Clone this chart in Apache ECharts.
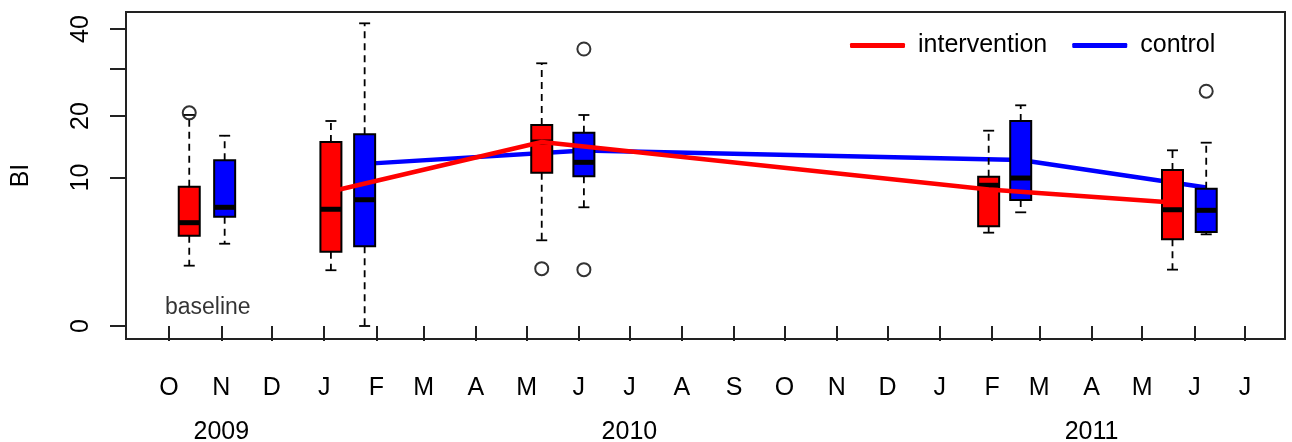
<!DOCTYPE html>
<html><head><meta charset="utf-8">
<script src="https://cdn.jsdelivr.net/npm/echarts@6.0.0/dist/echarts.min.js"></script>
<style>html,body{margin:0;padding:0;background:#fff}#c{width:1292px;height:442px}</style>
</head><body><div id="c"></div>
<script>
// ---- tick labels ----
const monthTicks = ['2009-10-01','2009-11-01','2009-12-01','2010-01-01','2010-02-01','2010-03-01','2010-04-01','2010-05-01','2010-06-01','2010-07-01','2010-08-01','2010-09-01','2010-10-01','2010-11-01','2010-12-01','2011-01-01','2011-02-01','2011-03-01','2011-04-01','2011-05-01','2011-06-01','2011-07-01'];
const monthLetters = ['J','F','M','A','M','J','J','A','S','O','N','D'];
const yearTicks = ['2009-11-01','2010-07-01','2011-04-01'];
const yearLabels = ['2009','2010','2011'];
const yTicks = [0, 10, 20, 30, 40];
const yLabels = [0, 10, 20, 40];

// ---- box plots: [lower whisker, Q1, median, Q3, upper whisker] ----
const redDates = ['2009-10-13','2010-01-05','2010-05-10','2011-01-30','2011-05-19'];
const redBoxes = [
  [1.65, 3.70, 4.84, 8.80, 20.2],
  [1.41, 2.50, 6.18, 15.35, 19.06],
  [3.33, 10.66, 15.35, 18.32, 31.3],
  [3.95, 4.51, 8.98, 10.11, 17.30],
  [1.44, 3.41, 6.13, 11.04, 14.0]
];
const blueDates = ['2009-11-03','2010-01-25','2010-06-04','2011-02-18','2011-06-08'];
const blueBoxes = [
  [3.07, 5.42, 6.39, 12.45, 16.42],
  [0, 2.88, 7.23, 16.66, 41.55],
  [6.39, 10.16, 12.15, 16.94, 20.19],
  [5.86, 7.20, 9.93, 19.06, 22.09],
  [3.81, 4.01, 6.07, 8.55, 15.24]
];
const redOutlierDates = ['2009-10-13','2010-05-10'];
const redOutlierValues = [20.6, 1.49];
const blueOutlierDates = ['2010-06-04','2010-06-04','2011-06-08'];
const blueOutlierValues = [34.8, 1.44, 25.0];

// ---- trend lines ----
const redLineDates = ['2010-01-05','2010-05-10','2011-01-30','2011-05-19'];
const redLineValues = [8.2, 15.35, 8.45, 6.92];
const blueLineDates = ['2010-01-25','2010-06-04','2011-02-18','2011-06-08'];
const blueLineValues = [11.92, 13.97, 12.50, 8.70];

const noteText = 'baseline';
const noteDate = '2009-10-24';
const noteValue = 0.15;

// ---- helpers ----
const FONT = 'Liberation Sans, Arial, sans-serif';
const t = s => Date.parse(s.length === 10 ? s + 'T00:00:00Z' : s + 'Z');
const tr = v => Math.sqrt(v);   // square-root y scale

function boxRender(color) {
  return function (params, api) {
    const x = api.value(0);
    const c = k => api.coord([x, api.value(k)]);
    const lo = c(1), q1 = c(2), md = c(3), q3 = c(4), hi = c(5);
    const cx = lo[0], hw = 10.5, cw = 5.5;
    const dash = { stroke: '#000', lineWidth: 1.8, lineDash: [7, 5], fill: null };
    const solid = { stroke: '#000', lineWidth: 1.8, fill: null };
    return { type: 'group', children: [
      { type: 'line', shape: { x1: cx, y1: q3[1], x2: cx, y2: hi[1] }, style: dash },
      { type: 'line', shape: { x1: cx, y1: q1[1], x2: cx, y2: lo[1] }, style: dash },
      { type: 'line', shape: { x1: cx - cw, y1: hi[1], x2: cx + cw, y2: hi[1] }, style: solid },
      { type: 'line', shape: { x1: cx - cw, y1: lo[1], x2: cx + cw, y2: lo[1] }, style: solid },
      { type: 'rect', shape: { x: cx - hw, y: q3[1], width: 2 * hw, height: q1[1] - q3[1] },
        style: { fill: color, stroke: '#000', lineWidth: 2 } },
      { type: 'line', shape: { x1: cx - hw, y1: md[1], x2: cx + hw, y2: md[1] },
        style: { stroke: '#000', lineWidth: 5 } }
    ]};
  };
}
const boxData = (dates, boxes) => dates.map((d, i) => [t(d)].concat(boxes[i].map(tr)));
const ptData = (dates, vals) => dates.map((d, i) => [t(d), tr(vals[i])]);

const chart = echarts.init(document.getElementById('c'), null, { renderer: 'canvas' });
const xMin = t('2009-09-05T12:00'), xMax = t('2011-07-24T17:00');

chart.setOption({
  animation: false,
  backgroundColor: '#fff',
  textStyle: { fontFamily: FONT },
  grid: { left: 126, right: 7, top: 12, bottom: 103, show: true, borderColor: '#222', borderWidth: 2,
          containLabel: false, outerBoundsMode: 'none' },
  legend: {
    left: 850, top: 33, padding: 0, itemWidth: 55, itemHeight: 5, itemGap: 25, icon: 'roundRect',
    textStyle: { fontSize: 25, color: '#000', fontFamily: FONT, padding: [0, 0, 0, 8] },
    data: ['intervention', 'control']
  },
  xAxis: [
    { type: 'value', min: xMin, max: xMax, position: 'bottom',
      splitLine: { show: false }, axisLine: { show: false },
      axisTick: { show: true, length: 15, lineStyle: { color: '#222', width: 2 }, customValues: monthTicks.map(t) },
      axisLabel: { show: true, margin: 37, fontSize: 25, color: '#000', fontFamily: FONT,
        customValues: monthTicks.map(t),
        formatter: v => monthLetters[new Date(v).getUTCMonth()] } },
    { type: 'value', min: xMin, max: xMax, position: 'bottom',
      splitLine: { show: false }, axisLine: { show: false }, axisTick: { show: false },
      axisLabel: { show: true, margin: 81, fontSize: 25, color: '#000', fontFamily: FONT,
        customValues: yearTicks.map(t),
        formatter: v => yearLabels[yearTicks.map(t).indexOf(v)] } }
  ],
  yAxis: {
    type: 'value', min: -0.277, max: 6.687,
    name: 'BI', nameLocation: 'middle', nameRotate: 90, nameGap: 92,
    nameTextStyle: { fontSize: 25, color: '#000', fontFamily: FONT },
    splitLine: { show: false }, axisLine: { show: false },
    axisTick: { show: true, length: 16, lineStyle: { color: '#222', width: 2 }, customValues: yTicks.map(tr) },
    axisLabel: { show: true, rotate: 90, margin: 32, fontSize: 25, color: '#000', fontFamily: FONT,
      customValues: yLabels.map(tr),
      formatter: v => String(Math.round(v * v)) }
  },
  series: [
    { name: 'control', type: 'line', z: 1, data: ptData(blueLineDates, blueLineValues),
      showSymbol: false, symbol: 'none', color: '#0000FF', lineStyle: { color: '#0000FF', width: 4.5 } },
    { name: 'redBoxes', type: 'custom', z: 2, renderItem: boxRender('#FF0000'),
      encode: { x: 0, y: [1, 2, 3, 4, 5] }, data: boxData(redDates, redBoxes) },
    { name: 'blueBoxes', type: 'custom', z: 3, renderItem: boxRender('#0000FF'),
      encode: { x: 0, y: [1, 2, 3, 4, 5] }, data: boxData(blueDates, blueBoxes) },
    { name: 'intervention', type: 'line', z: 4, data: ptData(redLineDates, redLineValues),
      showSymbol: false, symbol: 'none', color: '#FF0000', lineStyle: { color: '#FF0000', width: 4.5 } },
    { name: 'outliers', type: 'scatter', z: 5, symbol: 'circle', symbolSize: 13,
      itemStyle: { color: 'rgba(0,0,0,0)', borderColor: '#000', borderWidth: 2 },
      data: ptData(redOutlierDates, redOutlierValues).concat(ptData(blueOutlierDates, blueOutlierValues)) },
    { name: 'note', type: 'scatter', z: 5, symbolSize: 1, itemStyle: { color: 'rgba(0,0,0,0)' },
      label: { show: true, position: 'inside', formatter: noteText, fontSize: 23, color: '#000', fontFamily: FONT },
      data: [[t(noteDate), tr(noteValue)]] }
  ]
});
</script></body></html>
